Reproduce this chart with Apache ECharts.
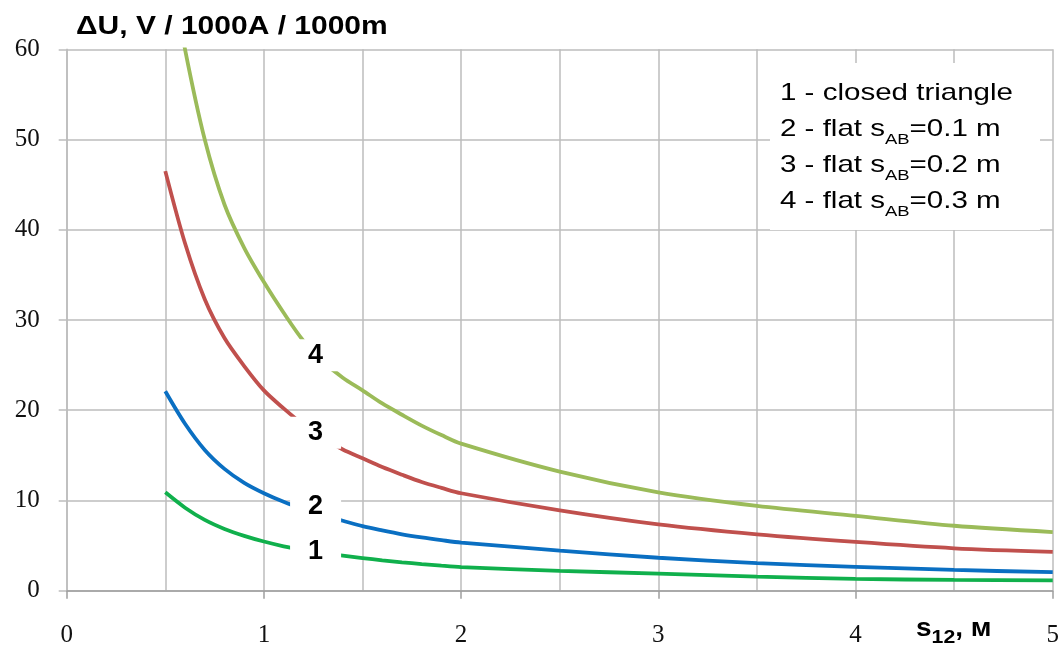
<!DOCTYPE html>
<html>
<head>
<meta charset="utf-8">
<script src="https://cdn.jsdelivr.net/npm/echarts@6/dist/echarts.min.js"></script>
<style>html,body{margin:0;padding:0;background:#fff}#c{width:1062px;height:648px}</style>
</head>
<body>
<div id="c"></div>
<script>
const xValues = [0.5, 0.6, 0.7, 0.8, 0.9, 1.0, 1.1, 1.2, 1.3, 1.4, 1.5, 1.6, 1.7, 1.8, 1.9, 2.0, 2.5, 3, 3.5, 4, 4.5, 5];
const curve1 = [10.9, 9.2, 7.85, 6.85, 6.08, 5.45, 4.92, 4.5, 4.15, 3.88, 3.62, 3.37, 3.15, 2.95, 2.77, 2.62, 2.2, 1.9, 1.55, 1.3, 1.2, 1.15];
const curve2 = [22.1, 18.5, 15.6, 13.5, 11.95, 10.8, 9.85, 9.05, 8.35, 7.75, 7.15, 6.68, 6.25, 5.9, 5.6, 5.33, 4.45, 3.65, 3.05, 2.65, 2.3, 2.05];
const curve3 = [46.5, 38.5, 32.3, 28.0, 24.9, 22.2, 20.2, 18.4, 16.9, 15.65, 14.67, 13.7, 12.85, 12.05, 11.4, 10.8, 8.9, 7.35, 6.25, 5.4, 4.7, 4.3];
const curve4 = [72, 60, 50, 42.8, 38.0, 34.2, 30.8, 27.7, 25.4, 23.6, 22.2, 20.75, 19.5, 18.3, 17.25, 16.3, 13.2, 10.9, 9.4, 8.3, 7.2, 6.5];
const curveNames = ['1', '2', '3', '4'];
const labelX = [1.262, 1.262, 1.262, 1.262];
const labelY = [4.3, 9.3, 17.5, 26.1];
const xTicks = [0, 1, 2, 3, 4, 5];
const yTicks = [0, 10, 20, 30, 40, 50, 60];

const colors = ['#10b04c', '#0a6fc2', '#c0504d', '#9bbb59'];
const curves = [curve1, curve2, curve3, curve4];

const chart = echarts.init(document.getElementById('c'), null, {renderer: 'canvas'});
const gridColor = '#bdbdbd';

const lineSeries = curves.map((c, i) => ({
  type: 'line',
  name: curveNames[i],
  data: xValues.map((x, j) => [x, c[j]]),
  smooth: 0.3,
  showSymbol: false,
  symbol: 'none',
  clip: true,
  lineStyle: {color: colors[i], width: 3.8},
  z: 2,
  silent: true
}));

const labelSeries = {
  type: 'scatter',
  data: curveNames.map((n, i) => [labelX[i], labelY[i], n]),
  symbolSize: 1,
  itemStyle: {opacity: 0},
  z: 6,
  silent: true,
  emphasis: {disabled: true},
  label: {
    show: true,
    opacity: 1,
    position: 'inside',
    formatter: p => p.value[2],
    fontFamily: 'Liberation Sans',
    fontWeight: 'bold',
    fontSize: 27,
    color: '#000',
    backgroundColor: '#fff',
    lineHeight: 24,
    padding: [4, 18, 4, 18]
  }
};

chart.setOption({
  animation: false,
  grid: {left: 66.7, right: 7.8, top: 49.3, bottom: 57.3, containLabel: false},
  xAxis: {
    type: 'value', min: 0, max: 5, interval: 1,
    axisLine: {show: true, onZero: false, lineStyle: {color: '#9e9e9e', width: 1.5}},
    axisTick: {show: true, length: 8, lineStyle: {color: '#9e9e9e', width: 1.5}},
    axisLabel: {
      margin: 32, fontFamily: 'Liberation Serif', fontSize: 25, color: '#111',
      showMinLabel: true, showMaxLabel: true,
      formatter: v => xTicks.includes(v) ? String(v) : ''
    },
    splitLine: {show: true, lineStyle: {color: gridColor, width: 1.5}},
    minorTick: {show: false, splitNumber: 2},
    minorSplitLine: {show: true, lineStyle: {color: gridColor, width: 1.5}}
  },
  yAxis: {
    type: 'value', min: 0, max: 60, interval: 10,
    axisLine: {show: true, lineStyle: {color: gridColor, width: 1.5}},
    axisTick: {show: true, length: 8, lineStyle: {color: gridColor, width: 1.5}},
    axisLabel: {
      margin: 27, fontFamily: 'Liberation Serif', fontSize: 25, color: '#111',
      formatter: v => yTicks.includes(v) ? String(v) : ''
    },
    splitLine: {show: true, lineStyle: {color: gridColor, width: 1.5}}
  },
  series: [...lineSeries, labelSeries],
  graphic: [
    {
      type: 'rect', z: 100, silent: true,
      shape: {x: 770, y: 63, width: 270, height: 167},
      style: {fill: '#fff'}
    },
    {
      type: 'text', z: 101, silent: true,
      x: 780, y: 75.3, scaleX: 1.23,
      style: {
        text: '{m|1 - closed triangle}\n{m|2 - flat s}{s|AB}{m|=0.1 m}\n{m|3 - flat s}{s|AB}{m|=0.2 m}\n{m|4 - flat s}{s|AB}{m|=0.3 m}',
        align: 'left', verticalAlign: 'top',
        fill: '#000',
        rich: {
          m: {fontFamily: 'Liberation Sans', fontSize: 24, lineHeight: 36, fill: '#000'},
          s: {fontFamily: 'Liberation Sans', fontSize: 15, lineHeight: 9, verticalAlign: 'bottom', fill: '#000'}
        }
      }
    },
    {
      type: 'text', z: 101, silent: true,
      x: 76, y: 27.3, scaleX: 1.2,
      style: {
        text: 'ΔU, V / 1000A / 1000m',
        font: 'bold 25px "Liberation Sans"',
        align: 'left', verticalAlign: 'middle', fill: '#000'
      }
    },
    {
      type: 'text', z: 101, silent: true,
      x: 916, y: 611, scaleX: 1.12,
      style: {
        text: '{m|s}{s|12}{m|, м}',
        align: 'left', verticalAlign: 'top', fill: '#000',
        rich: {
          m: {fontFamily: 'Liberation Sans', fontWeight: 'bold', fontSize: 25, lineHeight: 36, fill: '#000'},
          s: {fontFamily: 'Liberation Sans', fontWeight: 'bold', fontSize: 19, lineHeight: 8, verticalAlign: 'bottom', fill: '#000'}
        }
      }
    }
  ]
});
</script>
</body>
</html>
